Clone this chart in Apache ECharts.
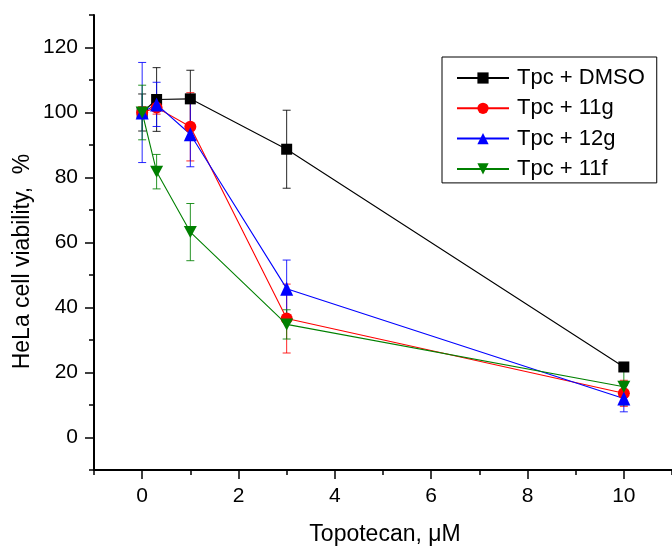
<!DOCTYPE html>
<html>
<head>
<meta charset="utf-8">
<script src="https://cdn.jsdelivr.net/npm/echarts@6/dist/echarts.min.js"></script>
<style>
html,body{margin:0;padding:0;background:#fff;}
#chart{width:672px;height:548px;}
</style>
</head>
<body>
<div id="chart"></div>
<script>
// ---- data ----
const xValues = [0, 0.3, 1, 3, 10];
const seriesNames = ['Tpc + DMSO', 'Tpc + 11g', 'Tpc + 12g', 'Tpc + 11f'];
const dmsoMean = [100, 104, 104.2, 88.7, 21.7];
const dmsoErr  = [5.7, 9.8, 8.8, 12, 1];
const g11Mean  = [100, 101.5, 95.6, 36.6, 13.6];
const g11Err   = [1.8, 2, 10.5, 10.6, 4];
const g12Mean  = [100, 102.5, 93.3, 45.8, 12];
const g12Err   = [15.4, 6.8, 10, 8.8, 4.1];
const f11Mean  = [100, 81.8, 63.2, 34.8, 15.6];
const f11Err   = [8.4, 5.3, 8.8, 4.5, 5.6];
const xTickLabels = [0, 2, 4, 6, 8, 10];
const yTickLabels = [0, 20, 40, 60, 80, 100, 120];
const yMinorTicks = [-10, 10, 30, 50, 70, 90, 110, 130];
const xMinorTicks = [-1, 1, 3, 5, 7, 9, 11];

const colors = ['#000000', '#ff0000', '#0000ff', '#008000'];
const means = [dmsoMean, g11Mean, g12Mean, f11Mean];
const errs = [dmsoErr, g11Err, g12Err, f11Err];
const symbols = ['rect', 'circle', 'triangle', 'triangle'];
const symbolSizes = [11, 12, [13, 14], [13, 12]];
const symbolRotates = [0, 0, 0, 180];

const tickFont = "'Liberation Sans Narrow', 'Arial Narrow', 'Liberation Sans', Arial, sans-serif";
const textFont = "'Liberation Sans', Arial, sans-serif";

const series = [];
seriesNames.forEach(function (name, i) {
  series.push({
    name: name + ' err',
    type: 'custom',
    xAxisIndex: 0, yAxisIndex: 0,
    data: xValues.map(function (x, k) { return [x, means[i][k], errs[i][k]]; }),
    encode: { x: 0, y: 1 },
    clip: false,
    silent: true,
    renderItem: function (params, api) {
      const x = api.value(0), y = api.value(1), e = api.value(2);
      const top = api.coord([x, y + e]);
      const bot = api.coord([x, y - e]);
      const hw = 4;
      const st = { stroke: colors[i], lineWidth: 1, opacity: 0.85 };
      return {
        type: 'group',
        children: [
          { type: 'line', shape: { x1: top[0], y1: top[1], x2: bot[0], y2: bot[1] }, style: st },
          { type: 'line', shape: { x1: top[0] - hw, y1: top[1], x2: top[0] + hw, y2: top[1] }, style: st },
          { type: 'line', shape: { x1: bot[0] - hw, y1: bot[1], x2: bot[0] + hw, y2: bot[1] }, style: st }
        ]
      };
    }
  });
  series.push({
    name: name,
    type: 'line',
    xAxisIndex: 0, yAxisIndex: 0,
    data: xValues.map(function (x, k) { return [x, means[i][k]]; }),
    symbol: symbols[i],
    symbolSize: symbolSizes[i],
    symbolRotate: symbolRotates[i],
    showAllSymbol: true,
    lineStyle: { color: colors[i], width: 1.1 },
    itemStyle: { color: colors[i] },
    emphasis: { disabled: true }
  });
});

const chart = echarts.init(document.getElementById('chart'), null, { renderer: 'canvas' });
chart.setOption({
  animation: false,
  backgroundColor: '#ffffff',
  grid: { left: 94, top: 15, right: -4, bottom: 78, containLabel: false },
  xAxis: [{
    type: 'value', min: -1, max: 11, interval: 1, position: 'bottom',
    axisLine: { show: true, onZero: false, lineStyle: { color: '#000', width: 2 } },
    axisTick: { show: true, customValues: xMinorTicks, length: 5, lineStyle: { color: '#000', width: 1.5 } },
    axisLabel: { customValues: xTickLabels, color: '#000', fontFamily: tickFont, fontSize: 21, margin: 16 },
    splitLine: { show: false }
  }, {
    type: 'value', min: -1, max: 11, interval: 1, position: 'bottom',
    axisLine: { show: false, onZero: false },
    axisTick: { show: true, customValues: xTickLabels, length: 9, lineStyle: { color: '#000', width: 1.5 } },
    axisLabel: { show: false },
    splitLine: { show: false }
  }],
  yAxis: [{
    type: 'value', min: -10, max: 130, interval: 10, position: 'left',
    axisLine: { show: true, onZero: false, lineStyle: { color: '#000', width: 2 } },
    axisTick: { show: true, customValues: yMinorTicks, length: 5, lineStyle: { color: '#000', width: 1.5 } },
    axisLabel: { customValues: yTickLabels, color: '#000', fontFamily: tickFont, fontSize: 21, margin: 16 },
    splitLine: { show: false }
  }, {
    type: 'value', min: -10, max: 130, interval: 10, position: 'left',
    axisLine: { show: false, onZero: false },
    axisTick: { show: true, customValues: yTickLabels, length: 9, lineStyle: { color: '#000', width: 1.5 } },
    axisLabel: { show: false },
    splitLine: { show: false }
  }],
  legend: {
    data: seriesNames,
    orient: 'vertical',
    left: 442, top: 57,
    padding: [10, 12, 3, 14],
    itemGap: 8.3,
    itemWidth: 52,
    itemHeight: 14,
    borderColor: '#000', borderWidth: 1,
    backgroundColor: '#fff',
    selectedMode: false,
    textStyle: { color: '#000', fontFamily: textFont, fontSize: 22, lineHeight: 22, padding: [0, 0, 0, 3] }
  },
  graphic: [{
    type: 'text', x: 23, y: 261.5, rotation: Math.PI / 2,
    style: { text: 'HeLa cell viability,  %', font: "23px 'Liberation Sans', Arial, sans-serif", fill: '#000', align: 'center', verticalAlign: 'middle' }
  }, {
    type: 'text', x: 385, y: 535,
    style: { text: 'Topotecan, μM', font: "23px 'Liberation Sans', Arial, sans-serif", fill: '#000', align: 'center', verticalAlign: 'middle' }
  }],
  series: series
});
</script>
</body>
</html>
